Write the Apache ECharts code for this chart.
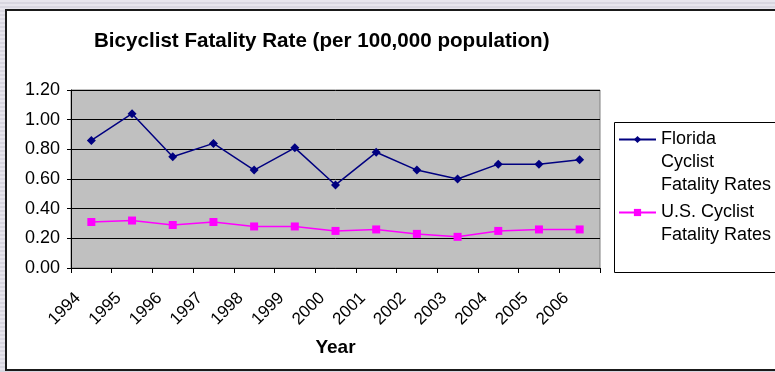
<!DOCTYPE html>
<html>
<head>
<meta charset="utf-8">
<script src="https://cdn.jsdelivr.net/npm/echarts@6/dist/echarts.min.js"></script>
<style>
  html, body { margin: 0; padding: 0; }
  body {
    width: 775px; height: 372px; overflow: hidden;
    background: repeating-linear-gradient(to bottom, #e7e5ed 0px, #e7e5ed 2px, #d8d6e0 2px, #d8d6e0 4px);
  }
  #chart { width: 775px; height: 372px; }
</style>
</head>
<body>
<div id="chart"></div>
<script>
// Bicyclist fatality rate per 100,000 population, 1994-2006
const years = ['1994', '1995', '1996', '1997', '1998', '1999', '2000', '2001', '2002', '2003', '2004', '2005', '2006'];
const floridaRates = [0.86, 1.04, 0.75, 0.84, 0.66, 0.81, 0.56, 0.78, 0.66, 0.60, 0.70, 0.70, 0.73];
const usRates = [0.31, 0.32, 0.29, 0.31, 0.28, 0.28, 0.25, 0.26, 0.23, 0.21, 0.25, 0.26, 0.26];
const floridaName = 'Florida Cyclist Fatality Rates';
const usName = 'U.S. Cyclist Fatality Rates';
// wrapped legend text; leading blank lines keep the marker level with the first line
const legendLines = {
  [floridaName]: '\n\nFlorida\nCyclist\nFatality Rates',
  [usName]: '\nU.S. Cyclist\nFatality Rates'
};
const yMin = 0, yMax = 1.2, yStep = 0.2;

const FONT = '"Liberation Sans", Arial, sans-serif';
const LINE_H = 23;

const chart = echarts.init(document.getElementById('chart'));
chart.setOption({
  animation: false,
  backgroundColor: 'transparent',
  textStyle: { fontFamily: FONT, color: '#000' },
  graphic: [
    {
      // white chart frame
      type: 'rect', z: -10, silent: true,
      shape: { x: 6, y: 10, width: 790, height: 360 },
      style: { fill: '#fff', stroke: '#1a1a1a', lineWidth: 2 }
    },
    {
      // legend box
      type: 'rect', z: 0, silent: true,
      shape: { x: 614.5, y: 122.5, width: 180, height: 150 },
      style: { fill: '#fff', stroke: '#000', lineWidth: 1 }
    }
  ],
  title: {
    text: 'Bicyclist Fatality Rate (per 100,000 population)',
    left: 94, top: 31, padding: 0,
    textStyle: { fontFamily: FONT, fontWeight: 'bold', fontSize: 20.6, color: '#000' }
  },
  legend: {
    orient: 'vertical',
    left: 618, top: 82, padding: 0,
    itemWidth: 37, itemHeight: 9, itemGap: -19,
    selectedMode: false,
    z: 5,
    formatter: name => legendLines[name],
    textStyle: { fontFamily: FONT, fontSize: 18, lineHeight: LINE_H, color: '#000' },
    data: [floridaName, usName]
  },
  grid: {
    left: 71, right: 175, top: 90, bottom: 104,
    show: true, backgroundColor: '#c0c0c0', borderColor: '#808080', borderWidth: 1
  },
  xAxis: {
    type: 'category',
    data: years,
    boundaryGap: true,
    name: 'Year',
    nameLocation: 'middle',
    nameGap: 70,
    nameTextStyle: { fontFamily: FONT, fontWeight: 'bold', fontSize: 19, color: '#000' },
    axisLine: { lineStyle: { color: '#000', width: 1 } },
    axisTick: { show: true, alignWithLabel: false, length: 5, lineStyle: { color: '#000' } },
    axisLabel: {
      rotate: 45, interval: 0, margin: 14,
      padding: [0, 19, 0, 0],
      fontFamily: FONT, fontSize: 17, color: '#000'
    },
    splitLine: { show: false }
  },
  yAxis: {
    type: 'value',
    min: yMin, max: yMax, interval: yStep,
    axisLine: { show: true, lineStyle: { color: '#000', width: 1 } },
    axisTick: { show: true, length: 4, lineStyle: { color: '#000' } },
    axisLabel: {
      margin: 11,
      formatter: v => v.toFixed(2),
      fontFamily: FONT, fontSize: 18, color: '#000'
    },
    splitLine: { show: true, lineStyle: { color: '#000', width: 1 } }
  },
  series: [
    {
      name: floridaName,
      type: 'line',
      data: floridaRates,
      symbol: 'diamond', symbolSize: 9,
      itemStyle: { color: '#000080' },
      lineStyle: { color: '#000080', width: 1.5 },
      z: 3
    },
    {
      name: usName,
      type: 'line',
      data: usRates,
      symbol: 'rect', symbolSize: 8,
      itemStyle: { color: '#ff00ff' },
      lineStyle: { color: '#ff00ff', width: 1.5 },
      z: 3
    }
  ]
});
</script>
</body>
</html>
